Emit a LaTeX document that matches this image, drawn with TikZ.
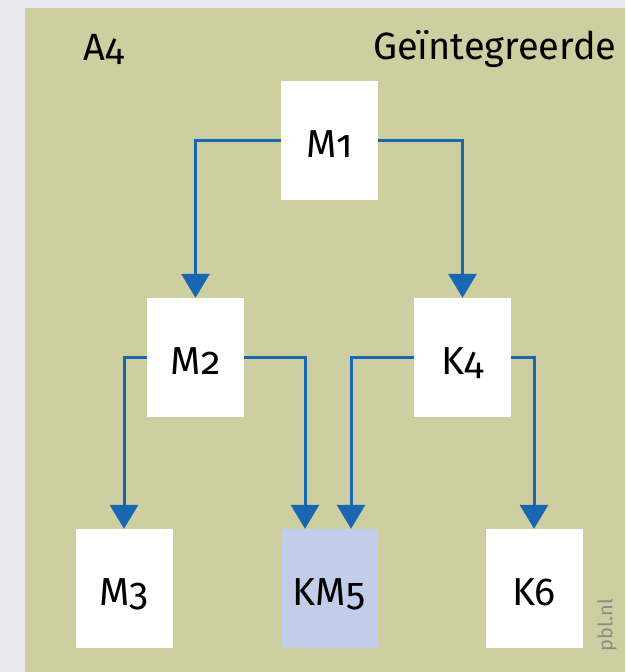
\documentclass[tikz,border=0pt]{standalone}
\usepackage{fontspec}
\setmainfont{Fira Sans}[Numbers=OldStyle]
\usetikzlibrary{arrows.meta}
\definecolor{framebg}{HTML}{E9E7F0}
\definecolor{panelbg}{HTML}{CDCFA0}
\definecolor{hilite}{HTML}{C1CDE9}
\definecolor{flow}{HTML}{1967B3}
\definecolor{credit}{HTML}{8A8A8A}
\tikzset{
  unit/.style={fill=white, minimum width=97pt, minimum height=119pt, inner sep=0pt,
    text height=33pt, text depth=0pt, font=\fontsize{39}{44}\selectfont},
  flowline/.style={draw=flow, line width=3pt,
    -{Triangle[width=28pt,length=24pt]}},
  caption/.style={font=\fontsize{38}{44}\selectfont, inner sep=0pt}
}
\begin{document}
\begin{tikzpicture}[x=1pt,y=-1pt]
  % canvas and panel
  \fill[framebg] (0,0) rectangle (625,672);
  \fill[panelbg] (25,8) rectangle (625,672);
  \useasboundingbox (0,0) rectangle (625,672);

  % headings
  \node[caption, anchor=base west] (lbl) at (83,60) {A4};
  \node[caption, anchor=base west] (ttl) at (373,59) {Geïntegreerde};

  % units
  \node[unit] (m1) at (329.5,140.5) {M1};
  \node[unit] (m2) at (195.5,357.5) {M2};
  \node[unit] (k4) at (462.5,357.5) {K4};
  \node[unit] (m3) at (124,588.5) {M3};
  \node[unit, fill=hilite] (km5) at (329,588.5) {KM5};
  \node[unit] (k6) at (534,588.5) {K6};

  % entry points on the shared unit
  \coordinate (km5l) at ([xshift=-24pt]km5.north);
  \coordinate (km5r) at ([xshift=22pt]km5.north);

  % flows
  \draw[flowline] (m1.west) -| (m2.north);
  \draw[flowline] (m1.east) -| (k4.north);
  \draw[flowline] (m2.west) -| (m3.north);
  \draw[flowline] (m2.east) -| (km5l);
  \draw[flowline] (k4.west) -| (km5r);
  \draw[flowline] (k4.east) -| (k6.north);

  % source credit
  \node[rotate=90, text=credit, font=\fontsize{20}{22}\selectfont, inner sep=0pt] (src) at (607,625) {pbl.nl};
\end{tikzpicture}
\end{document}
